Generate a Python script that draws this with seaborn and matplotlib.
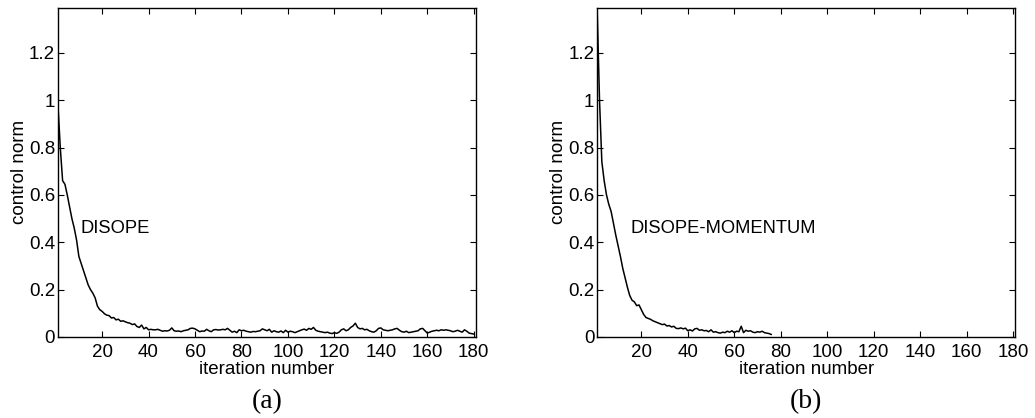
import numpy as np
import pandas as pd
import matplotlib
matplotlib.use("Agg")
import matplotlib.pyplot as plt
import seaborn as sns

# Control norm per iteration, plain DISOPE
disope = [
    0.98, 0.80, 0.66, 0.645, 0.60, 0.55, 0.50, 0.46, 0.41, 0.34,
    0.31, 0.28, 0.25, 0.22, 0.20, 0.185, 0.165, 0.13, 0.115, 0.108,
    0.098, 0.092, 0.090, 0.080, 0.082, 0.072, 0.075, 0.066, 0.068, 0.064,
    0.060, 0.058, 0.052, 0.055, 0.044, 0.040, 0.050, 0.034, 0.040, 0.030,
    0.032, 0.030, 0.030, 0.032, 0.028, 0.024, 0.026, 0.025, 0.028, 0.038,
    0.026, 0.024, 0.025, 0.022, 0.026, 0.028, 0.030, 0.036, 0.037, 0.034,
    0.028, 0.022, 0.025, 0.024, 0.032, 0.026, 0.022, 0.030, 0.031, 0.029,
    0.030, 0.032, 0.030, 0.036, 0.028, 0.020, 0.024, 0.018, 0.030, 0.026,
    0.028, 0.024, 0.022, 0.020, 0.023, 0.022, 0.024, 0.026, 0.034, 0.030,
    0.026, 0.032, 0.020, 0.026, 0.022, 0.020, 0.025, 0.018, 0.028, 0.020,
    0.024, 0.022, 0.018, 0.022, 0.026, 0.030, 0.033, 0.028, 0.036, 0.032,
    0.040, 0.028, 0.024, 0.022, 0.020, 0.018, 0.020, 0.016, 0.014, 0.018,
    0.015, 0.020, 0.030, 0.034, 0.026, 0.030, 0.040, 0.046, 0.058, 0.040,
    0.034, 0.036, 0.030, 0.032, 0.026, 0.022, 0.020, 0.026, 0.036, 0.038,
    0.030, 0.028, 0.026, 0.028, 0.030, 0.034, 0.036, 0.028, 0.022, 0.020,
    0.024, 0.018, 0.020, 0.022, 0.024, 0.026, 0.034, 0.036, 0.026, 0.016,
    0.020, 0.024, 0.026, 0.028, 0.026, 0.030, 0.028, 0.030, 0.028, 0.026,
    0.022, 0.024, 0.028, 0.024, 0.020, 0.030, 0.024, 0.016, 0.014, 0.012,
]

# Control norm per iteration, DISOPE with momentum
disope_momentum = [
    1.38, 1.00, 0.74, 0.66, 0.60, 0.56, 0.53, 0.48, 0.43, 0.385,
    0.34, 0.29, 0.25, 0.21, 0.175, 0.155, 0.148, 0.132, 0.135, 0.115,
    0.095, 0.082, 0.078, 0.074, 0.068, 0.064, 0.060, 0.056, 0.052, 0.054,
    0.046, 0.048, 0.042, 0.045, 0.036, 0.035, 0.038, 0.034, 0.037, 0.026,
    0.030, 0.025, 0.034, 0.036, 0.028, 0.030, 0.026, 0.027, 0.022, 0.030,
    0.020, 0.022, 0.018, 0.016, 0.020, 0.018, 0.024, 0.020, 0.026, 0.018,
    0.024, 0.022, 0.045, 0.018, 0.028, 0.024, 0.026, 0.020, 0.018, 0.022,
    0.020, 0.024, 0.018, 0.016, 0.014, 0.010,
]

x_ticks = [20, 40, 60, 80, 100, 120, 140, 160, 180]
y_ticks = [0, 0.2, 0.4, 0.6, 0.8, 1.0, 1.2]
y_tick_labels = ["0", "0.2", "0.4", "0.6", "0.8", "1", "1.2"]

panels = [
    (disope, "DISOPE", "(a)", 10.5),
    (disope_momentum, "DISOPE-MOMENTUM", "(b)", 15.3),
]

sns.set_theme(style="ticks")
plt.rcParams["font.family"] = ["Liberation Sans", "DejaVu Sans"]
plt.rcParams["text.color"] = "black"
plt.rcParams["axes.labelcolor"] = "black"

fig = plt.figure(figsize=(10.35, 4.18), dpi=100)
axes = [
    fig.add_axes([0.056, 0.194, 0.404, 0.787]),
    fig.add_axes([0.577, 0.194, 0.404, 0.787]),
]

for ax, (values, name, tag, text_x) in zip(axes, panels):
    df = pd.DataFrame({"iteration": np.arange(1, len(values) + 1),
                       "norm": values})
    sns.lineplot(data=df, x="iteration", y="norm", ax=ax,
                 color="black", linewidth=1.1)
    ax.set_xlim(1, 181)
    ax.set_ylim(0, 1.39)
    ax.set_xticks(x_ticks)
    ax.set_xticklabels([str(t) for t in x_ticks])
    ax.set_yticks(y_ticks)
    ax.set_yticklabels(y_tick_labels)
    ax.tick_params(direction="in", length=4, width=0.8, labelsize=13.5,
                   top=True, right=True, pad=2, colors="black")
    ax.tick_params(axis="x", pad=5)
    for sp in ax.spines.values():
        sp.set_visible(True)
        sp.set_color("black")
        sp.set_linewidth(1.0)
    ax.set_xlabel("iteration number", fontsize=13.5, labelpad=0)
    ax.set_ylabel("control norm", fontsize=13.5, labelpad=1)
    ax.text(text_x, 0.46, name, fontsize=13.2, va="center", ha="left")
    ax.text(0.5, -0.198, tag, transform=ax.transAxes, ha="center",
            va="center", fontsize=20, family="Liberation Serif")

fig.savefig("out.png", dpi=100, facecolor="white")
